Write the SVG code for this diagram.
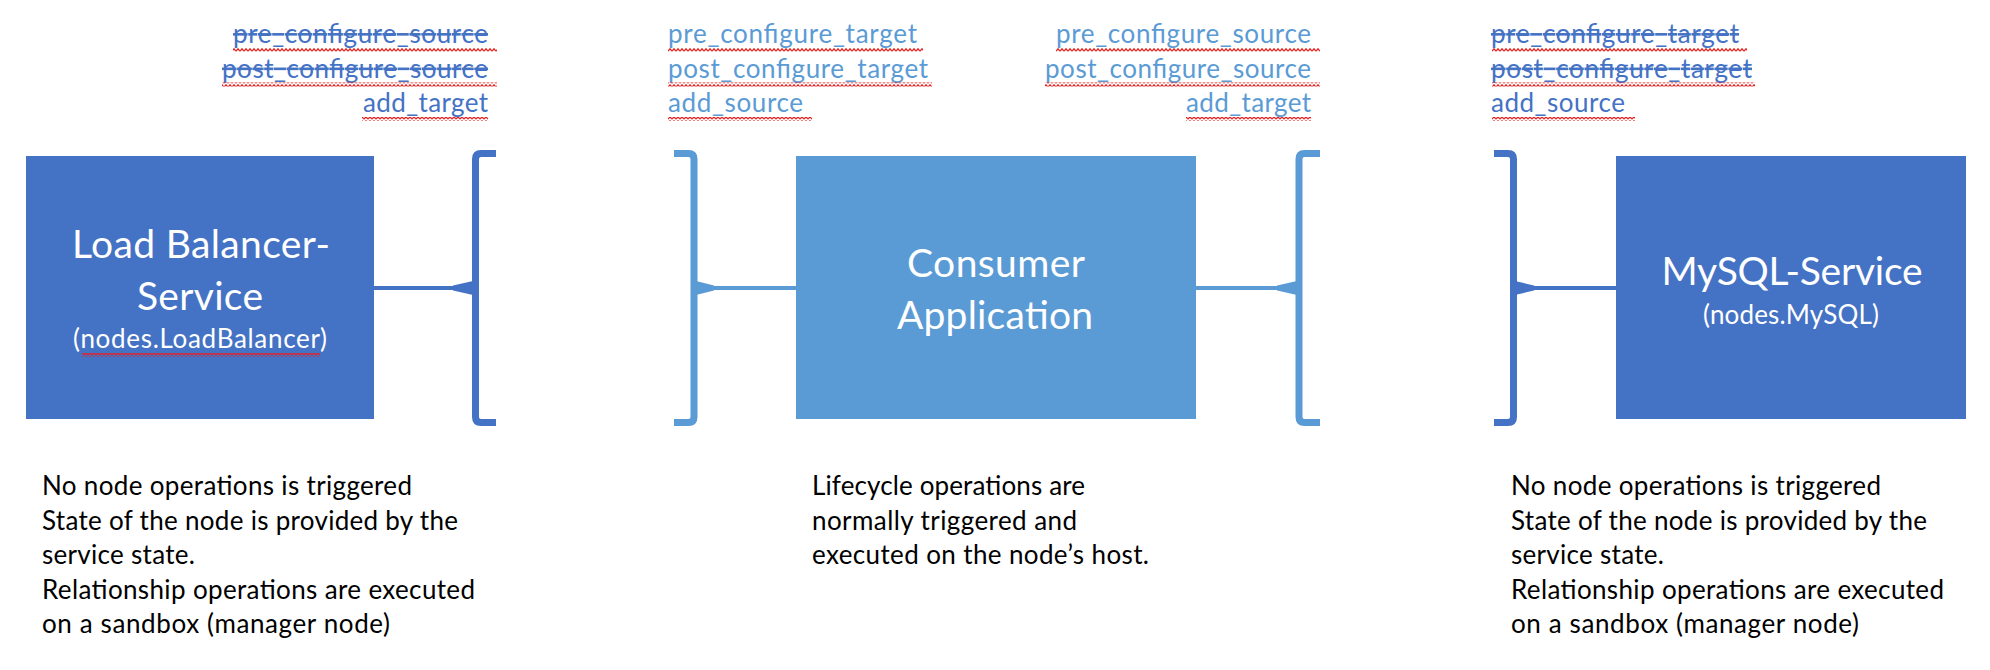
<svg xmlns="http://www.w3.org/2000/svg" width="1990" height="670" viewBox="0 0 1990 670">
<style>
  .t { font-family: "Lato", "Liberation Sans", sans-serif; }
  .title { font-size: 39px; fill: #ffffff; text-anchor: middle; }
  .sub { font-size: 26px; fill: #ffffff; text-anchor: middle; }
  .op { font-size: 26px; }
  .dk { fill: #4472C4; }
  .lt { fill: #5B9BD5; }
  .strike { text-decoration: line-through; }
  .desc { font-size: 26px; fill: #000000; }
  .end { text-anchor: end; }
  .conn { fill: none; stroke-width: 4; }
  .brk { fill: none; stroke-width: 7; stroke-linejoin: round; }
  .sq { fill: url(#squiggle); }
</style>
<defs>
  <pattern id="squiggle" width="4" height="4" patternUnits="userSpaceOnUse">
    <path d="M0 3.2 L2 0.8 L4 3.2" fill="none" stroke="#ee1c1c" stroke-width="1.3"/>
  </pattern>
</defs>
<rect width="1990" height="670" fill="#ffffff"/>

<!-- connectors and brackets -->
<g id="connectors">
  <!-- Load Balancer -> bracket -->
  <line class="conn" x1="374" y1="288" x2="456" y2="288" stroke="#4472C4"/>
  <path class="brk" stroke="#4472C4" d="M496 153.5 H481 Q475.5 153.5 475.5 159 V417 Q475.5 422.5 481 422.5 H496"/>
  <polygon fill="#4472C4" points="473,281 453,285.5 453,290.5 473,295"/>

  <!-- Consumer left -->
  <path class="brk" stroke="#5B9BD5" d="M674 153.5 H688.5 Q694 153.5 694 159 V417 Q694 422.5 688.5 422.5 H674"/>
  <polygon fill="#5B9BD5" points="696,281 714,285.5 714,290.5 696,295"/>
  <line class="conn" x1="712" y1="288" x2="796" y2="288" stroke="#5B9BD5"/>

  <!-- Consumer right -->
  <line class="conn" x1="1196" y1="288" x2="1279" y2="288" stroke="#5B9BD5"/>
  <polygon fill="#5B9BD5" points="1297,281 1277,285.5 1277,290.5 1297,295"/>
  <path class="brk" stroke="#5B9BD5" d="M1320 153.5 H1304.5 Q1299 153.5 1299 159 V417 Q1299 422.5 1304.5 422.5 H1320"/>

  <!-- MySQL left -->
  <path class="brk" stroke="#4472C4" d="M1494 153.5 H1508 Q1513.5 153.5 1513.5 159 V417 Q1513.5 422.5 1508 422.5 H1494"/>
  <polygon fill="#4472C4" points="1515,281 1534,285.5 1534,290.5 1515,295"/>
  <line class="conn" x1="1532" y1="288" x2="1616" y2="288" stroke="#4472C4"/>
</g>

<!-- nodes -->
<g id="node-loadbalancer">
  <rect x="26" y="156" width="348" height="263" fill="#4472C4"/>
  <text class="t title" x="201" y="258" textLength="258">Load Balancer-</text>
  <text class="t title" x="200" y="310" textLength="126">Service</text>
  <text class="t sub" x="200" y="348" textLength="254">(nodes.LoadBalancer)</text>
  <rect class="sq" x="82" y="353" width="238" height="4"/>
</g>

<g id="node-consumer">
  <rect x="796" y="156" width="400" height="263" fill="#5B9BD5"/>
  <text class="t title" x="996" y="277" textLength="178">Consumer</text>
  <text class="t title" x="995" y="329" textLength="196">Application</text>
</g>

<g id="node-mysql">
  <rect x="1616" y="156" width="350" height="263" fill="#4472C4"/>
  <text class="t title" x="1792" y="285" textLength="261">MySQL-Service</text>
  <text class="t sub" x="1791" y="324" textLength="176">(nodes.MySQL)</text>
</g>

<!-- relationship operation labels -->
<g id="ops-loadbalancer">
  <text class="t op dk end strike" x="488" y="43" textLength="255">pre_configure_source</text>
  <text class="t op dk end strike" x="488" y="77.5" textLength="266">post_configure_source</text>
  <text class="t op dk end" x="488" y="112" textLength="125">add_target</text>
  <rect class="sq" x="233" y="48" width="264" height="4"/>
  <rect class="sq" x="222" y="82.5" width="275" height="4"/>
  <rect class="sq" x="362" y="117" width="126" height="4"/>
</g>

<g id="ops-consumer-left">
  <text class="t op lt" x="668" y="43" textLength="249">pre_configure_target</text>
  <text class="t op lt" x="668" y="77.5" textLength="260">post_configure_target</text>
  <text class="t op lt" x="668" y="112" textLength="135">add_source</text>
  <rect class="sq" x="668" y="48" width="255" height="4"/>
  <rect class="sq" x="668" y="82.5" width="264" height="4"/>
  <rect class="sq" x="668" y="117" width="144" height="4"/>
</g>

<g id="ops-consumer-right">
  <text class="t op lt end" x="1311" y="43" textLength="255">pre_configure_source</text>
  <text class="t op lt end" x="1311" y="77.5" textLength="266">post_configure_source</text>
  <text class="t op lt end" x="1311" y="112" textLength="125">add_target</text>
  <rect class="sq" x="1056" y="48" width="264" height="4"/>
  <rect class="sq" x="1045" y="82.5" width="275" height="4"/>
  <rect class="sq" x="1186" y="117" width="125" height="4"/>
</g>

<g id="ops-mysql">
  <text class="t op dk strike" x="1491" y="43" textLength="248">pre_configure_target</text>
  <text class="t op dk strike" x="1491" y="77.5" textLength="261">post_configure_target</text>
  <text class="t op dk" x="1491" y="112" textLength="134">add_source</text>
  <rect class="sq" x="1492" y="48" width="255" height="4"/>
  <rect class="sq" x="1492" y="82.5" width="263" height="4"/>
  <rect class="sq" x="1492" y="117" width="143" height="4"/>
</g>

<!-- descriptions -->
<g id="desc-loadbalancer">
  <text class="t desc" x="42" y="495" textLength="370">No node operations is triggered</text>
  <text class="t desc" x="42" y="529.5" textLength="416">State of the node is provided by the</text>
  <text class="t desc" x="42" y="564" textLength="153">service state.</text>
  <text class="t desc" x="42" y="598.5" textLength="433">Relationship operations are executed</text>
  <text class="t desc" x="42" y="633" textLength="348">on a sandbox (manager node)</text>
</g>

<g id="desc-consumer">
  <text class="t desc" x="812" y="495" textLength="273">Lifecycle operations are</text>
  <text class="t desc" x="812" y="529.5" textLength="265">normally triggered and</text>
  <text class="t desc" x="812" y="564" textLength="337">executed on the node’s host.</text>
</g>

<g id="desc-mysql">
  <text class="t desc" x="1511" y="495" textLength="370">No node operations is triggered</text>
  <text class="t desc" x="1511" y="529.5" textLength="416">State of the node is provided by the</text>
  <text class="t desc" x="1511" y="564" textLength="153">service state.</text>
  <text class="t desc" x="1511" y="598.5" textLength="433">Relationship operations are executed</text>
  <text class="t desc" x="1511" y="633" textLength="348">on a sandbox (manager node)</text>
</g>
</svg>
